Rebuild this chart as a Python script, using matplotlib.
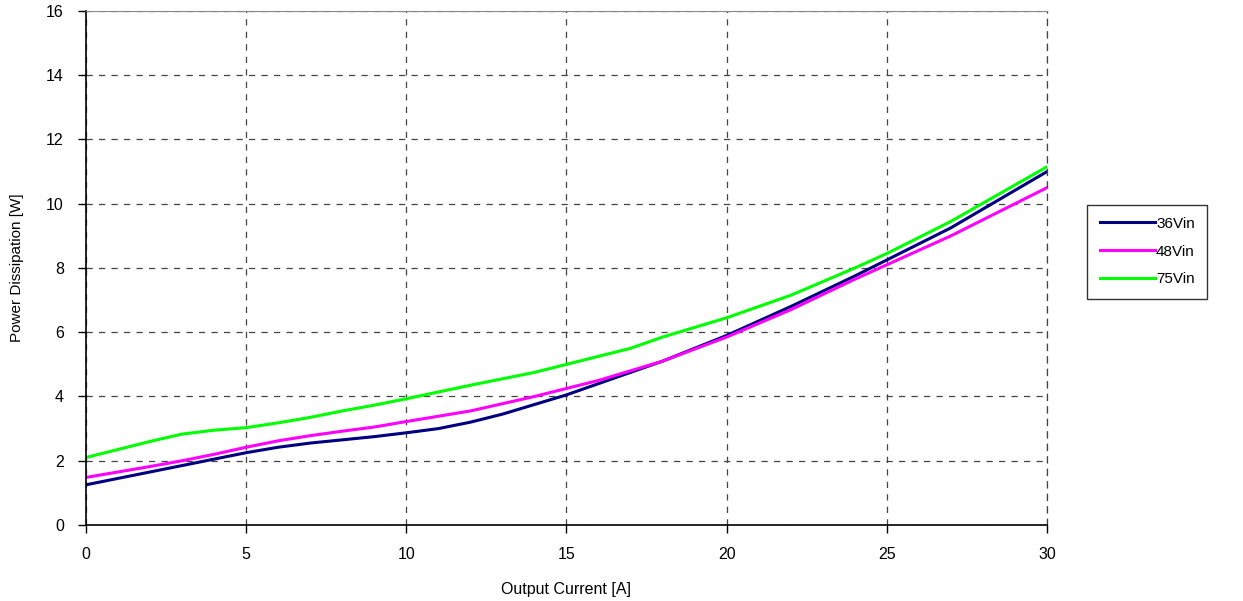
import numpy as np
import matplotlib.pyplot as plt

plt.rcParams['font.family'] = ['Liberation Sans', 'DejaVu Sans']

# output current [A] and power dissipation [W]
x_36 = [0, 1, 2, 3, 4, 5, 6, 7, 8, 9, 10, 11, 12, 13, 14, 15, 16, 17, 18, 20, 22, 24, 25, 27, 30]
p_36 = [1.25, 1.45, 1.65, 1.85, 2.05, 2.25, 2.42, 2.55, 2.65, 2.75, 2.87, 3.0, 3.2, 3.45, 3.75,
        4.05, 4.4, 4.75, 5.1, 5.9, 6.8, 7.75, 8.25, 9.25, 11.0]

x_48 = [0, 2, 3, 4, 5, 6, 7, 8, 9, 10, 12, 14, 15, 16, 17, 18, 20, 22, 24, 25, 27, 30]
p_48 = [1.48, 1.82, 2.0, 2.2, 2.42, 2.62, 2.78, 2.92, 3.05, 3.22, 3.55, 4.0, 4.25, 4.5, 4.8,
        5.1, 5.85, 6.7, 7.65, 8.1, 9.0, 10.5]

x_75 = [0, 1, 2, 3, 4, 5, 6, 7, 8, 9, 10, 12, 14, 15, 17, 18, 20, 22, 24, 25, 27, 30]
p_75 = [2.1, 2.35, 2.6, 2.83, 2.95, 3.03, 3.18, 3.35, 3.55, 3.73, 3.93, 4.35, 4.75, 5.0, 5.5,
        5.85, 6.45, 7.15, 8.0, 8.45, 9.45, 11.15]

labels = ['36Vin', '48Vin', '75Vin']
colors = ['#000080', '#ff00ff', '#00ff00']

fig = plt.figure(figsize=(12.43, 6.01), dpi=100)
ax = fig.add_axes([0.0692, 0.1265, 0.7731, 0.8552])

for xs, ys, lab, c in zip([x_36, x_48, x_75], [p_36, p_48, p_75], labels, colors):
    ax.plot(xs, ys, color=c, lw=2.2, label=lab)

ax.set_xlim(0, 30)
ax.set_ylim(0, 16)
ax.set_xticks(np.arange(0, 31, 5))
ax.set_yticks(np.arange(0, 17, 2))
ax.grid(True, ls=(0, (5, 5)), color='#444444', lw=0.9)
ax.tick_params(direction='out', length=6, width=1, labelsize=11.5, pad=10)

ax.spines['right'].set_linestyle((0, (5, 5)))
ax.spines['right'].set_color('#444444')
ax.spines['right'].set_linewidth(0.9)
ax.spines['top'].set_color('#888888')
ax.spines['left'].set_linewidth(1.2)
ax.spines['bottom'].set_linewidth(1.2)

ax.set_xlabel('Output Current [A]', fontsize=11.5, labelpad=14)
ax.set_ylabel('Power Dissipation [W]', fontsize=11, labelpad=16)

leg = ax.legend(loc='center left', bbox_to_anchor=(1.042, 0.532), frameon=True, fancybox=False,
                edgecolor='black', fontsize=11, handlelength=3.6, handletextpad=0.1,
                labelspacing=0.9, borderpad=0.8, borderaxespad=0)
leg.get_frame().set_linewidth(1.0)

plt.savefig('out.png', dpi=100)
